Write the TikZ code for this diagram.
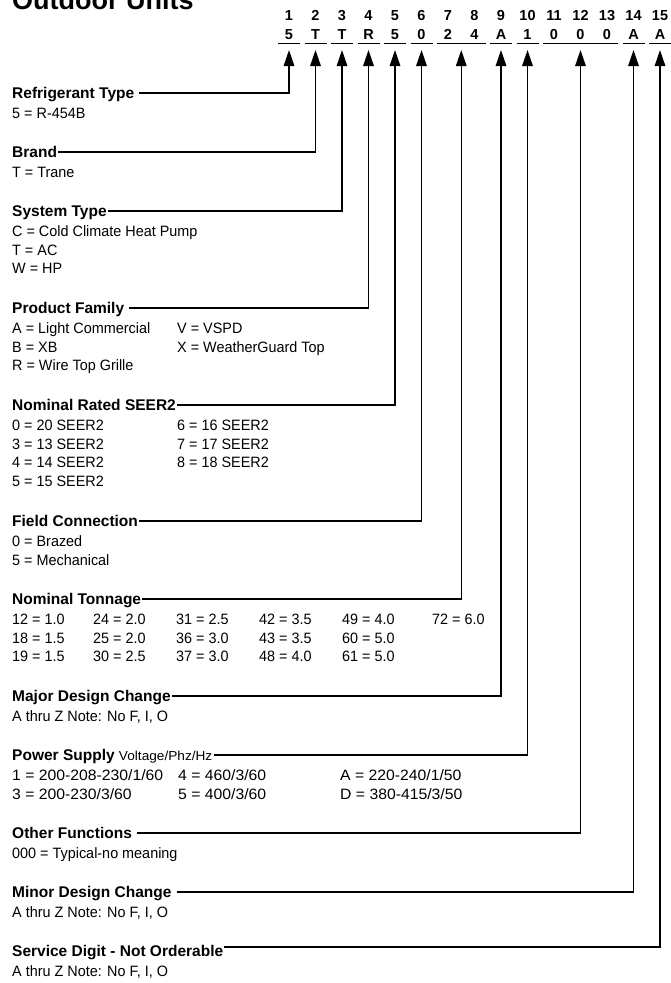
\documentclass[tikz,border=0pt]{standalone}
\usepackage{fontspec}
\setmainfont{Liberation Sans}
\newfontfamily\condfont[FakeStretch=0.96]{Liberation Sans}
\newfontfamily\powfont[FakeStretch=1.05]{Liberation Sans}
\usetikzlibrary{arrows.meta}
\tikzset{
  hdg/.style={anchor=base west, inner sep=0pt, text height=11pt, text depth=0pt,
    font=\fontsize{15.5}{18}\selectfont\bfseries},
  body/.style={anchor=base west, inner sep=0pt, font=\fontsize{15}{18}\selectfont\condfont},
  pbody/.style={body, font=\fontsize{15}{18}\selectfont\powfont},
  digit/.style={anchor=base, inner sep=0pt, font=\fontsize{14.5}{16}\selectfont\bfseries},
  lead/.style={line width=1.4pt, -{Triangle[width=10.5pt,length=16pt]}},
}
\begin{document}
\begin{tikzpicture}[x=1pt,y=-1pt]
  \useasboundingbox (0,0) rectangle (671,983);
  \node [anchor=base west, inner sep=0pt, font=\fontsize{27}{30}\selectfont\bfseries] (title) at (12,9) {Outdoor Units};
  % model number
  \foreach \i/\v in {1/5,2/T,3/T,4/R,5/5,6/0,7/2,8/4,9/A,10/1,11/0,12/0,13/0,14/A,15/A} {
    \node [digit] (pos\i) at ({289+(\i-1)*26.5},20.5) {\i};
    \node [digit] (val\i) at ({289+(\i-1)*26.5},39) {\v};
  }
  \foreach \a/\b in {1/1,2/2,3/3,4/4,5/5,6/6,7/8,9/9,10/10,11/13,14/14,15/15}
    \draw [line width=1pt] ({289+(\a-1)*26.5-11},43.5) -- ({289+(\b-1)*26.5+11},43.5);
  \foreach \n/\x in {1/289,2/315.5,3/342,4/368.5,5/395,6/421.5,78/461.25,9/501,10/527.5,1113/580.5,14/633.5,15/660}
    \coordinate (tip\n) at (\x,50);
  % headings
  \node [hdg] (refr) at (12,98.5) {Refrigerant Type};
  \node [body] (refr1) at (12,118.5) {5 = R-454B};
  \node [hdg] (brand) at (12,157.5) {Brand};
  \node [body] (brand1) at (12,177.5) {T = Trane};
  \node [hdg] (sys) at (12,216.5) {System Type};
  \node [body] (sys1) at (12,236.5) {C = Cold Climate Heat Pump};
  \node [body] (sys2) at (12,255) {T = AC};
  \node [body] (sys3) at (12,273.5) {W = HP};
  \node [hdg] (prod) at (12,313.5) {Product Family};
  \node [body] (prod1) at (12,333.5) {A = Light Commercial};
  \node [body] (prod2) at (177,333.5) {V = VSPD};
  \node [body] (prod3) at (12,352) {B = XB};
  \node [body] (prod4) at (177,352) {X = WeatherGuard Top};
  \node [body] (prod5) at (12,370.5) {R = Wire Top Grille};
  \node [hdg] (seer) at (12,410.5) {Nominal Rated SEER2};
  \node [body] (seer1) at (12,430.5) {0 = 20 SEER2};
  \node [body] (seer2) at (177,430.5) {6 = 16 SEER2};
  \node [body] (seer3) at (12,449) {3 = 13 SEER2};
  \node [body] (seer4) at (177,449) {7 = 17 SEER2};
  \node [body] (seer5) at (12,467.5) {4 = 14 SEER2};
  \node [body] (seer6) at (177,467.5) {8 = 18 SEER2};
  \node [body] (seer7) at (12,486) {5 = 15 SEER2};
  \node [hdg] (field) at (12,526.5) {Field Connection};
  \node [body] (field1) at (12,546.5) {0 = Brazed};
  \node [body] (field2) at (12,565) {5 = Mechanical};
  \node [hdg] (ton) at (12,604.5) {Nominal Tonnage};
  \foreach \x/\t [count=\k] in {12/12 = 1.0,93/24 = 2.0,176/31 = 2.5,259/42 = 3.5,342/49 = 4.0,432/72 = 6.0}
    \node [body] (tonA\k) at (\x,624.5) {\t};
  \foreach \x/\t [count=\k] in {12/18 = 1.5,93/25 = 2.0,176/36 = 3.0,259/43 = 3.5,342/60 = 5.0}
    \node [body] (tonB\k) at (\x,643) {\t};
  \foreach \x/\t [count=\k] in {12/19 = 1.5,93/30 = 2.5,176/37 = 3.0,259/48 = 4.0,342/61 = 5.0}
    \node [body] (tonC\k) at (\x,661.5) {\t};
  \node [hdg] (major) at (12,701.5) {Major Design Change};
  \node [body] (major1) at (12,721.5) {A thru Z Note: No F, I, O};
  \node [hdg] (power) at (12,760.5) {Power Supply {\fontsize{13}{14}\selectfont\mdseries\powfont Voltage/Phz/Hz}};
  \node [pbody] (power1) at (12,780.5) {1 = 200-208-230/1/60};
  \node [pbody] (power2) at (178,780.5) {4 = 460/3/60};
  \node [pbody] (power3) at (340,780.5) {A = 220-240/1/50};
  \node [pbody] (power4) at (12,799) {3 = 200-230/3/60};
  \node [pbody] (power5) at (178,799) {5 = 400/3/60};
  \node [pbody] (power6) at (340,799) {D = 380-415/3/50};
  \node [hdg] (other) at (12,838.5) {Other Functions};
  \node [body] (other1) at (12,858.5) {000 = Typical-no meaning};
  \node [hdg] (minor) at (12,897.5) {Minor Design Change};
  \node [body] (minor1) at (12,917.5) {A thru Z Note: No F, I, O};
  \node [hdg] (serv) at (12,956.5) {Service Digit - Not Orderable};
  \node [body] (serv1) at (12,976.5) {A thru Z Note: No F, I, O};
  % leaders
  \draw [lead] ([xshift=5pt]refr.east) -| (tip1);
  \draw [lead] ([xshift=1pt]brand.east) -| (tip2);
  \draw [lead] ([xshift=1pt]sys.east) -| (tip3);
  \draw [lead] ([xshift=5pt]prod.east) -| (tip4);
  \draw [lead] ([xshift=1pt]seer.east) -| (tip5);
  \draw [lead] ([xshift=1pt]field.east) -| (tip6);
  \draw [lead] ([xshift=1pt]ton.east) -| (tip78);
  \draw [lead] ([xshift=1pt]major.east) -| (tip9);
  \draw [lead] ([xshift=1pt]power.east) -| (tip10);
  \draw [lead] ([xshift=5pt]other.east) -| (tip1113);
  \draw [lead] ([xshift=5pt]minor.east) -| (tip14);
  \draw [lead] ([xshift=1pt,yshift=4pt]serv.east) -| (tip15);
\end{tikzpicture}
\end{document}
